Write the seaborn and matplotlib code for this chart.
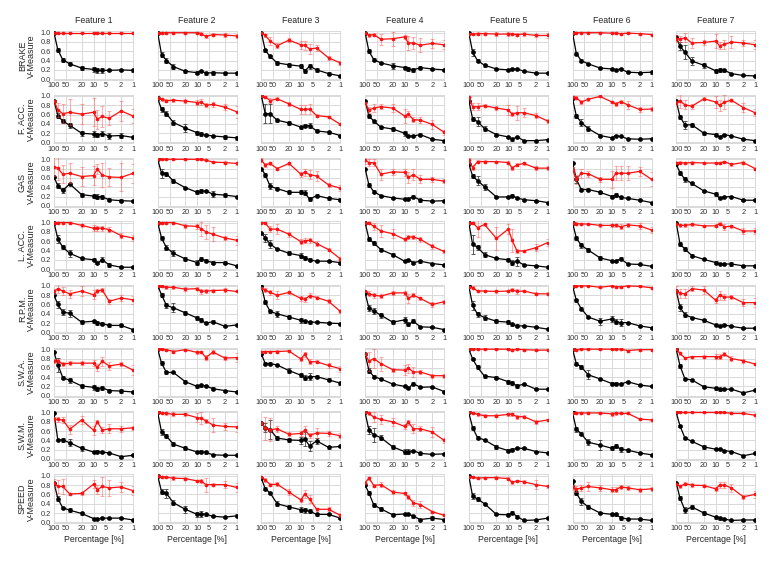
import numpy as np
import pandas as pd
import matplotlib
matplotlib.use("Agg")
import matplotlib.pyplot as plt
import seaborn as sns

PCT = [100, 80, 60, 40, 20, 10, 8, 6, 4, 2, 1]
XTICKS = [100, 50, 20, 10, 5, 2, 1]
XTICKLABELS = ["100", "50", "20", "10", "5", "2", "1"]
YTICKS = [0.0, 0.2, 0.4, 0.6, 0.8, 1.0]
FEATURES = ["Feature 1", "Feature 2", "Feature 3", "Feature 4", "Feature 5", "Feature 6", "Feature 7"]
SIGNALS = ["BRAKE", "F. ACC.", "GAS", "L. ACC.", "R.P.M.", "S.W.A.", "S.W.M.", "SPEED"]

# ---------------- BRAKE ----------------
BRAKE_RED = [
    [1, 1, 1, 1, 1, 1, 1, 1, 1, 1, 1],
    [1, 1, 1, 1, 1, 1, .98, .92, .96, .95, .93],
    [1, .94, .82, .72, .84, .74, .73, .65, .67, .46, .35],
    [1, .94, .96, .86, .87, .91, .78, .78, .73, .77, .74],
    [.97, .97, .98, .98, .97, .97, .97, .96, .97, .94, .94],
    [1, 1, 1, 1, 1, .99, .99, .98, .99, .98, .96],
    [.87, .86, .89, .78, .79, .82, .72, .75, .80, .78, .74],
]
BRAKE_RED_ERR = [
    [0, .01, .01, .01, .01, .01, .01, .01, .01, .01, .01],
    [0, .02, .02, .02, .02, .02, .03, .03, .03, .04, .04],
    [0, .03, .08, .05, .05, .08, .10, .10, .07, .04, .05],
    [0, .03, .03, .12, .15, .05, .15, .12, .15, .10, .10],
    [.03, .03, .03, .03, .04, .04, .03, .04, .04, .04, .05],
    [0, .01, .01, .01, .01, .02, .02, .02, .02, .02, .02],
    [.07, .07, .10, .10, .05, .15, .08, .10, .12, .07, .10],
]
BRAKE_BLACK = [
    [1, .63, .42, .33, .24, .21, .19, .19, .19, .20, .19],
    [1, .53, .40, .27, .17, .14, .18, .13, .14, .13, .13],
    [1, .62, .49, .35, .31, .28, .18, .28, .20, .12, .07],
    [1, .60, .42, .35, .29, .25, .22, .20, .25, .22, .20],
    [1, .58, .40, .30, .22, .20, .22, .22, .17, .13, .13],
    [1, .55, .40, .33, .24, .22, .20, .22, .15, .14, .15],
    [.9, .71, .58, .39, .30, .18, .20, .19, .12, .08, .07],
]
BRAKE_BLACK_ERR = [
    [0, .04, .04, .03, .05, .06, .05, .05, .02, .02, .04],
    [0, .06, .05, .06, .03, .03, .02, .03, .04, .03, .03],
    [0, .04, .04, .05, .04, .04, .05, .05, .04, .04, .03],
    [0, .04, .03, .03, .06, .04, .04, .04, .04, .03, .03],
    [0, .08, .04, .03, .02, .03, .02, .03, .02, .02, .02],
    [0, .03, .03, .02, .02, .02, .02, .03, .02, .02, .03],
    [0, .08, .15, .08, .05, .04, .04, .03, .02, .02, .02],
]

# ---------------- F. ACC. ----------------
FACC_RED = [
    [.9, .70, .62, .65, .61, .65, .50, .56, .52, .68, .57],
    [.95, .93, .90, .91, .89, .86, .87, .80, .82, .76, .66],
    [1, .98, .90, .94, .83, .71, .71, .72, .58, .55, .39],
    [.86, .70, .74, .77, .74, .57, .61, .49, .48, .39, .22],
    [.97, .77, .77, .79, .74, .70, .61, .64, .64, .58, .46],
    [.98, .96, .87, .93, .99, .87, .83, .88, .81, .71, .72],
    [.85, .89, .81, .78, .94, .87, .80, .87, .91, .75, .64],
]
FACC_RED_ERR = [
    [0, .15, .20, .28, .22, .30, .20, .22, .15, .22, .15],
    [0, .03, .03, .03, .05, .06, .06, .04, .05, .06, .13],
    [0, .03, .05, .03, .04, .10, .10, .10, .03, .03, .02],
    [0, .07, .08, .06, .08, .15, .07, .05, .07, .10, .05],
    [0, .07, .08, .03, .05, .10, .05, .15, .10, .05, .05],
    [0, .03, .04, .03, .02, .03, .05, .03, .08, .05, .04],
    [.05, .15, .10, .05, .03, .12, .12, .15, .03, .10, .08],
]
FACC_BLACK = [
    [.9, .58, .46, .37, .20, .18, .16, .19, .14, .15, .11],
    [.95, .71, .62, .43, .31, .21, .18, .16, .14, .12, .10],
    [1, .62, .62, .48, .42, .33, .36, .36, .25, .22, .15],
    [.9, .57, .46, .33, .29, .20, .14, .14, .17, .07, .04],
    [.9, .51, .45, .30, .17, .12, .07, .12, .04, .04, .06],
    [.95, .57, .43, .30, .15, .10, .15, .13, .08, .07, .08],
    [.9, .55, .38, .38, .20, .17, .12, .17, .14, .07, .04],
]
FACC_BLACK_ERR = [
    [0, .05, .05, .05, .05, .06, .05, .06, .06, .06, .03],
    [0, .06, .05, .06, .09, .04, .05, .02, .02, .05, .04],
    [0, .20, .20, .03, .04, .03, .03, .05, .03, .03, .02],
    [0, .05, .03, .03, .05, .05, .03, .02, .03, .02, .02],
    [0, .04, .10, .06, .04, .03, .03, .03, .01, .01, .01],
    [0, .04, .08, .06, .03, .02, .02, .02, .01, .01, .01],
    [0, .04, .08, .05, .03, .03, .02, .02, .01, .02, .01],
]

# ---------------- GAS ----------------
GAS_RED = [
    [.84, .81, .68, .70, .63, .65, .79, .66, .62, .61, .70],
    [1, 1, 1, 1, 1, 1, 1, .98, .94, .93, .91],
    [.98, .88, .91, .80, .91, .68, .72, .67, .64, .45, .38],
    [.98, .93, .93, .68, .73, .72, .61, .67, .57, .57, .53],
    [.98, .82, .95, .95, .95, .93, .81, .88, .91, .81, .81],
    [.78, .57, .70, .69, .57, .57, .70, .70, .70, .74, .57],
    [.93, .93, .92, .93, .92, .92, .92, .95, .89, .93, .80],
]
GAS_RED_ERR = [
    [.20, .25, .20, .22, .20, .20, .10, .25, .20, .30, .20],
    [0, .01, .01, .01, .01, .01, .02, .02, .03, .04, .03],
    [.04, .04, .04, .03, .03, .05, .07, .10, .10, .05, .07],
    [.08, .08, .08, .12, .07, .07, .12, .12, .09, .05, .05],
    [.05, .05, .03, .03, .02, .03, .05, .03, .04, .04, .04],
    [.05, .10, .10, .06, .06, .18, .15, .15, .15, .10, .15],
    [0, .03, .03, .03, .02, .03, .03, .02, .04, .04, .02],
]
GAS_BLACK = [
    [.62, .43, .33, .47, .24, .21, .20, .19, .13, .11, .10],
    [1, .70, .69, .53, .39, .29, .32, .32, .25, .23, .20],
    [.8, .67, .42, .37, .29, .29, .28, .14, .22, .16, .13],
    [.8, .45, .30, .22, .17, .14, .15, .20, .12, .10, .11],
    [.9, .64, .54, .41, .19, .19, .22, .17, .13, .11, .07],
    [.93, .57, .35, .35, .29, .20, .24, .18, .16, .12, .07],
    [.9, .71, .57, .48, .32, .25, .17, .19, .20, .12, .12],
]
GAS_BLACK_ERR = [
    [0, .05, .05, .03, .04, .05, .06, .04, .03, .03, .02],
    [0, .10, .04, .04, .02, .04, .04, .03, .06, .05, .02],
    [0, .04, .06, .03, .04, .04, .05, .04, .04, .03, .03],
    [0, .04, .03, .02, .02, .02, .02, .04, .03, .02, .02],
    [0, .05, .10, .06, .03, .03, .04, .02, .02, .02, .02],
    [0, .07, .03, .03, .03, .03, .04, .04, .02, .02, .02],
    [0, .04, .05, .04, .03, .04, .03, .03, .02, .02, .02],
]

# ---------------- L. ACC. ----------------
LACC_RED = [
    [1, 1, 1, 1, .94, .88, .88, .88, .85, .72, .67],
    [1, 1, 1, 1, .93, .92, .87, .80, .75, .67, .62],
    [1, .99, .86, .86, .75, .59, .61, .62, .55, .42, .22],
    [1, .99, .92, .82, .76, .64, .69, .69, .64, .49, .38],
    [1, 1, .89, .96, .66, .86, .62, .39, .39, .46, .57],
    [1, .98, .97, .97, .94, .94, .94, .91, .95, .93, .84],
    [.98, .94, .94, .96, .93, .93, .98, .91, .92, .82, .82],
]
LACC_RED_ERR = [
    [0, .02, .02, .02, .03, .07, .05, .05, .05, .05, .07],
    [0, .02, .02, .02, .05, .05, .15, .15, .15, .05, .10],
    [0, .03, .06, .10, .05, .05, .05, .05, .05, .03, .03],
    [0, .03, .08, .12, .10, .03, .05, .04, .05, .05, .03],
    [0, .02, .20, .03, .25, .10, .25, .05, .03, .08, .08],
    [0, .03, .03, .03, .04, .04, .03, .05, .04, .06, .07],
    [0, .03, .03, .03, .02, .03, .03, .06, .03, .06, .06],
]
LACC_BLACK = [
    [1, .65, .47, .34, .23, .20, .13, .20, .09, .04, .04],
    [1, .67, .46, .34, .22, .14, .22, .18, .14, .14, .07],
    [.78, .67, .54, .43, .34, .29, .24, .20, .17, .17, .14],
    [1, .65, .56, .42, .31, .17, .20, .14, .17, .12, .09],
    [1, .53, .47, .31, .23, .20, .14, .17, .09, .07, .04],
    [1, .67, .51, .41, .24, .18, .18, .22, .11, .10, .06],
    [1, .54, .43, .29, .21, .14, .12, .11, .11, .07, .07],
]
LACC_BLACK_ERR = [
    [0, .08, .04, .08, .04, .03, .03, .05, .05, .02, .02],
    [0, .05, .05, .06, .04, .05, .04, .03, .03, .04, .02],
    [0, .08, .08, .03, .04, .05, .04, .03, .02, .02, .02],
    [0, .04, .04, .04, .03, .02, .02, .02, .03, .02, .02],
    [0, .20, .05, .05, .02, .03, .05, .10, .02, .02, .02],
    [0, .04, .05, .04, .04, .02, .02, .03, .02, .02, .02],
    [0, .05, .04, .03, .02, .03, .02, .02, .04, .02, .02],
]

# ---------------- R.P.M. ----------------
RPM_RED = [
    [.88, .94, .89, .83, .89, .81, .89, .91, .67, .74, .70],
    [1, .99, .97, .97, .93, .94, .88, .89, .90, .91, .88],
    [.95, .91, .86, .80, .86, .73, .71, .79, .75, .67, .45],
    [.9, .83, .80, .78, .85, .85, .73, .80, .73, .60, .66],
    [.97, .96, .89, .89, .88, .89, .92, .88, .89, .83, .83],
    [1, 1, 1, 1, .97, 1, .98, .98, 1, .99, .96],
    [.9, .84, .83, .94, .91, .69, .80, .76, .76, .64, .64],
]
RPM_RED_ERR = [
    [.05, .10, .08, .08, .10, .10, .05, .05, .05, .06, .08],
    [0, .02, .03, .03, .04, .03, .05, .05, .03, .04, .02],
    [0, .05, .05, .08, .04, .06, .05, .06, .04, .04, .04],
    [0, .05, .05, .05, .05, .04, .10, .04, .03, .06, .04],
    [0, .03, .03, .03, .03, .03, .03, .05, .03, .03, .03],
    [0, .01, .01, .01, .02, .01, .02, .02, .01, .02, .02],
    [.10, .10, .10, .05, .08, .05, .10, .07, .05, .07, .10],
]
RPM_BLACK = [
    [.8, .60, .44, .41, .22, .24, .20, .19, .15, .15, .06],
    [1, .81, .58, .53, .42, .31, .26, .20, .23, .13, .16],
    [1, .65, .45, .40, .33, .26, .24, .22, .22, .20, .19],
    [.85, .52, .46, .37, .22, .27, .17, .24, .12, .11, .06],
    [1, .58, .39, .32, .24, .22, .17, .14, .14, .11, .07],
    [1, .69, .51, .33, .24, .29, .23, .21, .21, .14, .10],
    [.9, .54, .38, .32, .26, .16, .14, .16, .13, .09, .09],
]
RPM_BLACK_ERR = [
    [0, .08, .07, .08, .04, .03, .05, .04, .04, .04, .02],
    [0, .04, .05, .10, .05, .04, .04, .03, .03, .02, .01],
    [0, .05, .04, .06, .05, .05, .03, .03, .02, .02, .02],
    [0, .06, .06, .05, .04, .06, .04, .04, .02, .02, .02],
    [0, .10, .05, .05, .04, .04, .04, .03, .02, .02, .02],
    [0, .03, .03, .03, .08, .07, .05, .08, .02, .02, .02],
    [0, .08, .05, .02, .03, .02, .02, .02, .02, .02, .02],
]

# ---------------- S.W.A. ----------------
SWA_RED = [
    [.75, .75, .68, .70, .70, .70, .61, .74, .64, .68, .55],
    [1, 1, .99, .95, .99, .93, .94, .82, .94, .81, .82],
    [.95, .95, .95, .95, .96, .79, .89, .73, .73, .65, .58],
    [.9, .74, .80, .69, .56, .55, .59, .51, .51, .43, .43],
    [1, 1, 1, 1, 1, 1, .98, 1, .99, .98, .98],
    [1, .99, 1, 1, 1, 1, 1, 1, .97, .99, .99],
    [1, .91, .81, .84, .84, .84, .84, .89, .80, .75, .68],
]
SWA_RED_ERR = [
    [.05, .05, .05, .04, .04, .06, .08, .10, .08, .04, .10],
    [0, .02, .02, .04, .02, .04, .03, .05, .05, .05, .10],
    [0, .02, .02, .03, .02, .04, .05, .05, .03, .06, .06],
    [0, .20, .20, .15, .04, .10, .10, .10, .05, .04, .04],
    [0, .02, .02, .02, .02, .02, .02, .02, .02, .02, .02],
    [0, .02, .02, .02, .02, .02, .02, .02, .02, .02, .02],
    [0, .04, .03, .02, .03, .05, .05, .04, .05, .04, .02],
]
SWA_BLACK = [
    [.93, .67, .39, .33, .21, .18, .15, .17, .11, .10, .08],
    [1, .70, .50, .50, .30, .20, .22, .21, .15, .11, .08],
    [.9, .69, .69, .66, .54, .44, .39, .41, .41, .34, .27],
    [.9, .54, .41, .36, .25, .20, .16, .26, .18, .19, .09],
    [1, .79, .61, .42, .39, .30, .27, .21, .25, .14, .14],
    [1, .69, .62, .45, .36, .26, .26, .25, .30, .23, .20],
    [1, .64, .36, .34, .19, .16, .14, .14, .14, .06, .12],
]
SWA_BLACK_ERR = [
    [0, .15, .04, .05, .04, .05, .04, .04, .03, .04, .02],
    [0, .05, .04, .02, .03, .03, .03, .02, .03, .02, .02],
    [0, .04, .04, .03, .05, .04, .06, .07, .03, .03, .03],
    [0, .06, .03, .02, .02, .02, .02, .04, .02, .02, .02],
    [0, .03, .04, .03, .03, .04, .04, .04, .03, .02, .02],
    [0, .03, .04, .10, .03, .03, .03, .03, .02, .03, .02],
    [0, .04, .02, .02, .03, .03, .03, .02, .02, .02, .01],
]

# ---------------- S.W.M. ----------------
SWM_RED = [
    [.85, .85, .84, .64, .84, .62, .80, .62, .65, .65, .67],
    [1, .99, .98, .96, .96, .89, .88, .82, .73, .70, .69],
    [.78, .66, .63, .65, .53, .55, .62, .51, .56, .55, .50],
    [1, .98, .90, .85, .80, .70, .79, .65, .65, .58, .40],
    [1, .99, .96, .93, .93, .96, .96, .91, .91, .80, .84],
    [.99, .99, .99, .99, .99, .97, .98, .98, .98, .86, .84],
    [1, 1, 1, 1, 1, 1, 1, 1, .98, .98, .94],
]
SWM_RED_ERR = [
    [.05, .06, .06, .10, .08, .10, .03, .06, .10, .06, .05],
    [0, .02, .03, .04, .03, .10, .12, .04, .15, .08, .10],
    [0, .25, .25, .06, .04, .06, .08, .05, .10, .06, .05],
    [0, .03, .10, .10, .08, .05, .05, .10, .05, .10, .06],
    [0, .03, .03, .03, .03, .03, .03, .04, .03, .04, .03],
    [0, .02, .02, .02, .02, .04, .03, .02, .02, .03, .03],
    [0, .01, .01, .01, .01, .02, .02, .02, .02, .02, .02],
]
SWM_BLACK = [
    [.98, .41, .41, .35, .23, .15, .16, .15, .13, .05, .08],
    [1, .58, .49, .32, .23, .15, .16, .14, .09, .08, .08],
    [.78, .67, .63, .45, .41, .40, .43, .28, .39, .25, .27],
    [1, .62, .52, .46, .26, .16, .16, .18, .12, .10, .11],
    [1, .67, .46, .41, .26, .18, .20, .23, .23, .16, .13],
    [1, .64, .54, .36, .30, .23, .28, .21, .19, .13, .09],
    [1, .71, .45, .38, .26, .21, .21, .18, .16, .07, .12],
]
SWM_BLACK_ERR = [
    [0, .03, .04, .08, .06, .03, .03, .03, .02, .02, .02],
    [0, .06, .04, .04, .04, .02, .03, .03, .01, .02, .01],
    [0, .10, .20, .05, .05, .08, .15, .10, .07, .04, .02],
    [0, .08, .15, .06, .05, .05, .05, .02, .03, .02, .02],
    [0, .04, .04, .03, .04, .04, .03, .02, .02, .02, .01],
    [0, .05, .03, .06, .10, .04, .05, .05, .03, .02, .02],
    [0, .03, .03, .02, .04, .02, .02, .02, .02, .02, .02],
]

# ---------------- SPEED ----------------
SPEED_RED = [
    [.84, .77, .77, .61, .62, .82, .70, .77, .74, .76, .68],
    [1, .98, .97, .95, .94, .89, .89, .81, .81, .81, .75],
    [.97, .91, .81, .82, .65, .48, .61, .50, .28, .28, .15],
    [.85, .95, .79, .81, .65, .62, .54, .42, .38, .23, .15],
    [.97, .97, .95, .96, .96, .94, .86, .89, .87, .81, .77],
    [.75, .71, .74, .77, .74, .70, .70, .76, .74, .70, .72],
    [.83, .77, .83, .80, .79, .72, .80, .80, .74, .55, .60],
]
SPEED_RED_ERR = [
    [.10, .15, .17, .03, .04, .08, .10, .20, .18, .10, .10],
    [0, .02, .02, .05, .04, .03, .04, .15, .03, .08, .10],
    [0, .04, .03, .04, .06, .04, .08, .08, .03, .04, .03],
    [0, .03, .03, .05, .04, .04, .04, .06, .08, .02, .02],
    [0, .02, .02, .02, .03, .03, .03, .03, .03, .10, .04],
    [.05, .06, .06, .10, .06, .05, .05, .04, .04, .04, .04],
    [0, .03, .03, .04, .04, .04, .06, .06, .08, .04, .08],
]
SPEED_BLACK = [
    [.85, .51, .31, .26, .19, .08, .07, .09, .09, .09, .05],
    [1, .66, .62, .42, .28, .17, .18, .17, .13, .11, .14],
    [.95, .72, .63, .40, .33, .27, .26, .24, .17, .17, .09],
    [.8, .63, .37, .29, .16, .18, .18, .13, .06, .09, .06],
    [1, .56, .50, .40, .17, .16, .21, .12, .04, .05, .09],
    [.89, .63, .45, .33, .20, .17, .17, .10, .07, .07, .04],
    [.85, .52, .26, .33, .20, .11, .09, .07, .04, .05, .05],
]
SPEED_BLACK_ERR = [
    [0, .05, .02, .04, .03, .02, .02, .02, .01, .02, .01],
    [0, .06, .10, .05, .07, .06, .06, .04, .02, .02, .03],
    [0, .03, .03, .05, .04, .05, .05, .04, .03, .02, .02],
    [0, .04, .05, .04, .03, .03, .03, .03, .02, .04, .02],
    [0, .06, .05, .02, .02, .03, .04, .03, .02, .02, .02],
    [0, .04, .07, .04, .03, .03, .04, .04, .02, .02, .01],
    [0, .04, .06, .04, .04, .03, .03, .02, .02, .02, .01],
]

ROWS = [
    (BRAKE_RED, BRAKE_RED_ERR, BRAKE_BLACK, BRAKE_BLACK_ERR),
    (FACC_RED, FACC_RED_ERR, FACC_BLACK, FACC_BLACK_ERR),
    (GAS_RED, GAS_RED_ERR, GAS_BLACK, GAS_BLACK_ERR),
    (LACC_RED, LACC_RED_ERR, LACC_BLACK, LACC_BLACK_ERR),
    (RPM_RED, RPM_RED_ERR, RPM_BLACK, RPM_BLACK_ERR),
    (SWA_RED, SWA_RED_ERR, SWA_BLACK, SWA_BLACK_ERR),
    (SWM_RED, SWM_RED_ERR, SWM_BLACK, SWM_BLACK_ERR),
    (SPEED_RED, SPEED_RED_ERR, SPEED_BLACK, SPEED_BLACK_ERR),
]

sns.set_theme(style="whitegrid", rc={
    "axes.edgecolor": "0.85",
    "grid.color": "0.85",
    "grid.linewidth": 0.7,
    "axes.linewidth": 0.7,
})
plt.rcParams["font.family"] = ["Liberation Sans", "DejaVu Sans"]

W, H = 781, 568
fig = plt.figure(figsize=(W / 100, H / 100), dpi=100)

Y_LO, Y_HI = -0.02, 1.03
UNIT = 46.5          # pixels per 1.0 on the y axis
ax_w = 79
ax_h = UNIT * (Y_HI - Y_LO)
for r in range(8):
    red, red_err, blk, blk_err = ROWS[r]
    for c in range(7):
        left = 54 + 103.7 * c
        top = 32.7 + 63.3 * r - UNIT * (Y_HI - 1.0)
        ax = fig.add_axes([left / W, 1 - (top + ax_h) / H, ax_w / W, ax_h / H])
        ax.set_xscale("log")
        df = pd.DataFrame({"pct": PCT, "red": red[c], "black": blk[c]})
        # black series
        ax.errorbar(PCT, blk[c], yerr=blk_err[c], fmt="none", ecolor=(0.2, 0.2, 0.2, 0.8),
                    elinewidth=0.7, capsize=1.5, capthick=0.7, zorder=2)
        sns.lineplot(data=df, x="pct", y="black", ax=ax, color="black", marker="o",
                     markersize=3.4, markeredgewidth=0, linewidth=0.9, zorder=3)
        # red series
        ax.errorbar(PCT, red[c], yerr=red_err[c], fmt="none", ecolor=(1, 0.3, 0.3, 0.45),
                    elinewidth=0.8, capsize=1.5, capthick=0.8, zorder=4)
        sns.lineplot(data=df, x="pct", y="red", ax=ax, color="#ff1010", marker="o",
                     markersize=2.6, markeredgewidth=0, linewidth=0.9, zorder=5)
        ax.set_xlim(100, 1)
        ax.set_ylim(Y_LO, Y_HI)
        ax.set_xticks(XTICKS)
        ax.set_xticklabels(XTICKLABELS)
        ax.xaxis.set_minor_locator(matplotlib.ticker.NullLocator())
        ax.set_yticks(YTICKS)
        ax.tick_params(axis="both", labelsize=5.3, length=0, colors="0.2")
        ax.tick_params(axis="x", pad=1.5)
        ax.tick_params(axis="y", pad=2.5)
        if c == 0:
            ax.set_yticklabels([f"{v:.1f}" for v in YTICKS])
            ax.set_ylabel(SIGNALS[r] + "\nV-Measure", fontsize=6.5, labelpad=3, color="0.15",
                          linespacing=1.05)
        else:
            ax.set_yticklabels([])
            ax.set_ylabel("")
        if r == 0:
            ax.set_title(FEATURES[c], fontsize=6.3, pad=6, color="0.15")
        if r == 7:
            ax.set_xlabel("Percentage [%]", fontsize=6.3, labelpad=2, color="0.15")
        else:
            ax.set_xlabel("")
        for s in ax.spines.values():
            s.set_color("0.85")

fig.savefig("out.png", dpi=100, facecolor="white")
